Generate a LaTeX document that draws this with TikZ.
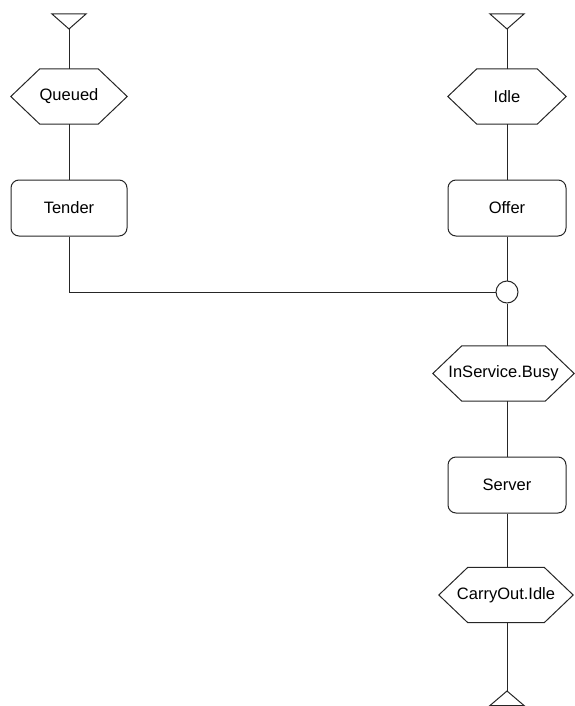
\documentclass[tikz,border=0pt]{standalone}
\usepackage{fontspec}
\setmainfont{Liberation Sans}
\tikzset{
  wire/.style={line width=1pt, draw=black!85},
  lbl/.style={font=\fontsize{16.5}{20}\selectfont},
  hexn/.style={lbl, rectangle, inner sep=0pt, minimum height=55pt},
  rbox/.style={lbl, rectangle, draw=black!85, line width=1pt, rounded corners=8pt,
    minimum width=118pt, minimum height=56pt, inner sep=0pt},
  junction/.style={circle, draw=black!85, line width=1pt, minimum size=22pt, inner sep=0pt, fill=white},
}
\newcommand\hexoutline[1]{%
  \draw[wire] (#1.west) -- ([xshift=29pt]#1.north west) -- ([xshift=-29pt]#1.north east)
    -- (#1.east) -- ([xshift=-29pt]#1.south east) -- ([xshift=29pt]#1.south west) -- cycle;}
\begin{document}
\begin{tikzpicture}[x=1pt,y=-1pt]
\useasboundingbox (0,0) rectangle (574,706);
% left column
\coordinate (qt) at (69,29);
\node[hexn, minimum width=116pt] (queued) at (69,96.5) {Queued};
\hexoutline{queued}
\node[rbox, minimum width=116pt] (tender) at (69,208) {Tender};
% right column
\coordinate (it) at (507,29);
\node[hexn, minimum width=118pt] (idle) at (507,96.5) {Idle};
\hexoutline{idle}
\node[rbox] (offer) at (507,208) {Offer};
\node[junction] (join) at (507,292) {};
\node[hexn, minimum width=141pt] (busy) at (503.5,373.5) {InService.Busy};
\hexoutline{busy}
\node[rbox] (server) at (507,485) {Server};
\node[hexn, minimum width=134pt] (carry) at (506,595) {CarryOut.Idle};
\hexoutline{carry}
\coordinate (bt) at (507,691);
% triangles
\draw[wire] (qt) -- ++(-17,-15) -- ++(34,0) -- cycle;
\draw[wire] (it) -- ++(-17,-15) -- ++(34,0) -- cycle;
\draw[wire] (bt) -- ++(-17,14.5) -- ++(34,0) -- cycle;
% connectors
\draw[wire] (qt) -- (queued.north);
\draw[wire] (queued.south) -- (tender.north);
\draw[wire] (tender.south) |- (join.west);
\draw[wire] (it) -- (idle.north);
\draw[wire] (idle.south) -- (offer.north);
\draw[wire] (offer.south) -- (join.north);
\draw[wire] (join.south) -- (join.south |- busy.north);
\draw[wire] (server.north |- busy.south) -- (server.north);
\draw[wire] (server.south) -- (server.south |- carry.north);
\draw[wire] (bt |- carry.south) -- (bt);
\end{tikzpicture}
\end{document}
